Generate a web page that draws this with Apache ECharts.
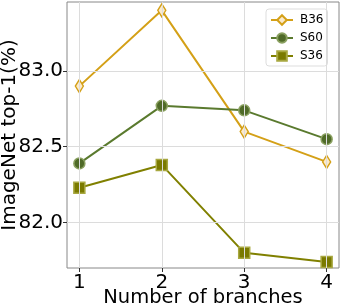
<!DOCTYPE html>
<html><head><meta charset="utf-8">
<script src="https://cdn.jsdelivr.net/npm/echarts@6/dist/echarts.min.js"></script>
<style>html,body{margin:0;padding:0;background:#fff}#c{width:342px;height:308px}</style>
</head><body><div id="c"></div>
<script>
const branches = [1, 2, 3, 4];
const b36 = [82.90, 83.40, 82.60, 82.40];
const s60 = [82.39, 82.77, 82.74, 82.55];
const s36 = [82.23, 82.38, 81.80, 81.74];
const yTicks = [82.0, 82.5, 83.0];
const xTicks = [1, 2, 3, 4];

const F = 'DejaVu Sans';
const chart = echarts.init(document.getElementById('c'), null, {renderer: 'canvas'});
const pts = a => a.map((v, i) => [branches[i], v]);
const gridLine = {color: '#dcdcdc', width: 1, type: 'solid'};
chart.setOption({
  animation: false,
  grid: {left: 67, right: 3, top: 2, bottom: 40, show: true, borderColor: '#888', borderWidth: 1, backgroundColor: 'transparent', containLabel: false, outerBoundsMode: 'none'},
  xAxis: {
    type: 'value', min: 0.85, max: 4.15,
    axisLine: {show: false},
    splitLine: {show: false},
    axisTick: {show: true, length: 4, lineStyle: {color: '#333'}, customValues: xTicks},
    axisLabel: {customValues: xTicks, fontFamily: F, fontSize: 20, color: '#000', margin: 5},
    name: 'Number of branches', nameLocation: 'middle', nameGap: 20, nameMoveOverlap: false,
    nameTextStyle: {fontFamily: F, fontSize: 19.5, color: '#000'}
  },
  yAxis: {
    type: 'value', min: 81.70, max: 83.455,
    axisLine: {show: false},
    splitLine: {show: false},
    axisTick: {show: true, length: 4, lineStyle: {color: '#333'}, customValues: yTicks},
    axisLabel: {customValues: yTicks, fontFamily: F, fontSize: 20, color: '#000', margin: 4, formatter: v => v.toFixed(1)},
    name: 'ImageNet top-1(%)', nameLocation: 'middle', nameGap: 47, nameMoveOverlap: false,
    nameTextStyle: {fontFamily: F, fontSize: 20, color: '#000'}
  },
  legend: {
    orient: 'vertical', left: 266, top: 9, width: 68,
    padding: [5, 4, 4, 4], itemGap: 6, itemWidth: 22, itemHeight: 12,
    borderColor: '#ddd', borderWidth: 1, borderRadius: 3, backgroundColor: '#fff',
    textStyle: {fontFamily: F, fontSize: 12, color: '#000', padding: [0, 0, 0, 2]},
    data: ['B36', 'S60', 'S36']
  },
  series: [
    {
      type: 'line', name: 'grid', data: [], silent: true,
      markLine: {
        silent: true, symbol: 'none', label: {show: false}, lineStyle: gridLine, animation: false,
        data: yTicks.map(v => ({yAxis: v})).concat(xTicks.map(v => ({xAxis: v})))
      }
    },
    {
      type: 'line', name: 'B36', data: pts(b36), symbol: 'diamond', symbolSize: [8, 13],
      lineStyle: {color: '#d4a017', width: 2}, z: 3,
      itemStyle: {color: '#fbeacb', borderColor: '#d4a017', borderWidth: 1.5}
    },
    {
      type: 'line', name: 'S60', data: pts(s60), symbol: 'circle', symbolSize: 11,
      lineStyle: {color: '#5a7a2e', width: 2}, z: 3,
      itemStyle: {color: '#4f6a28', borderColor: '#8aa060', borderWidth: 1.5}
    },
    {
      type: 'line', name: 'S36', data: pts(s36), symbol: 'rect', symbolSize: 11,
      lineStyle: {color: '#808000', width: 2}, z: 3,
      itemStyle: {color: '#7a7a00', borderColor: '#a8a840', borderWidth: 1.5}
    }
  ]
});
</script></body></html>
